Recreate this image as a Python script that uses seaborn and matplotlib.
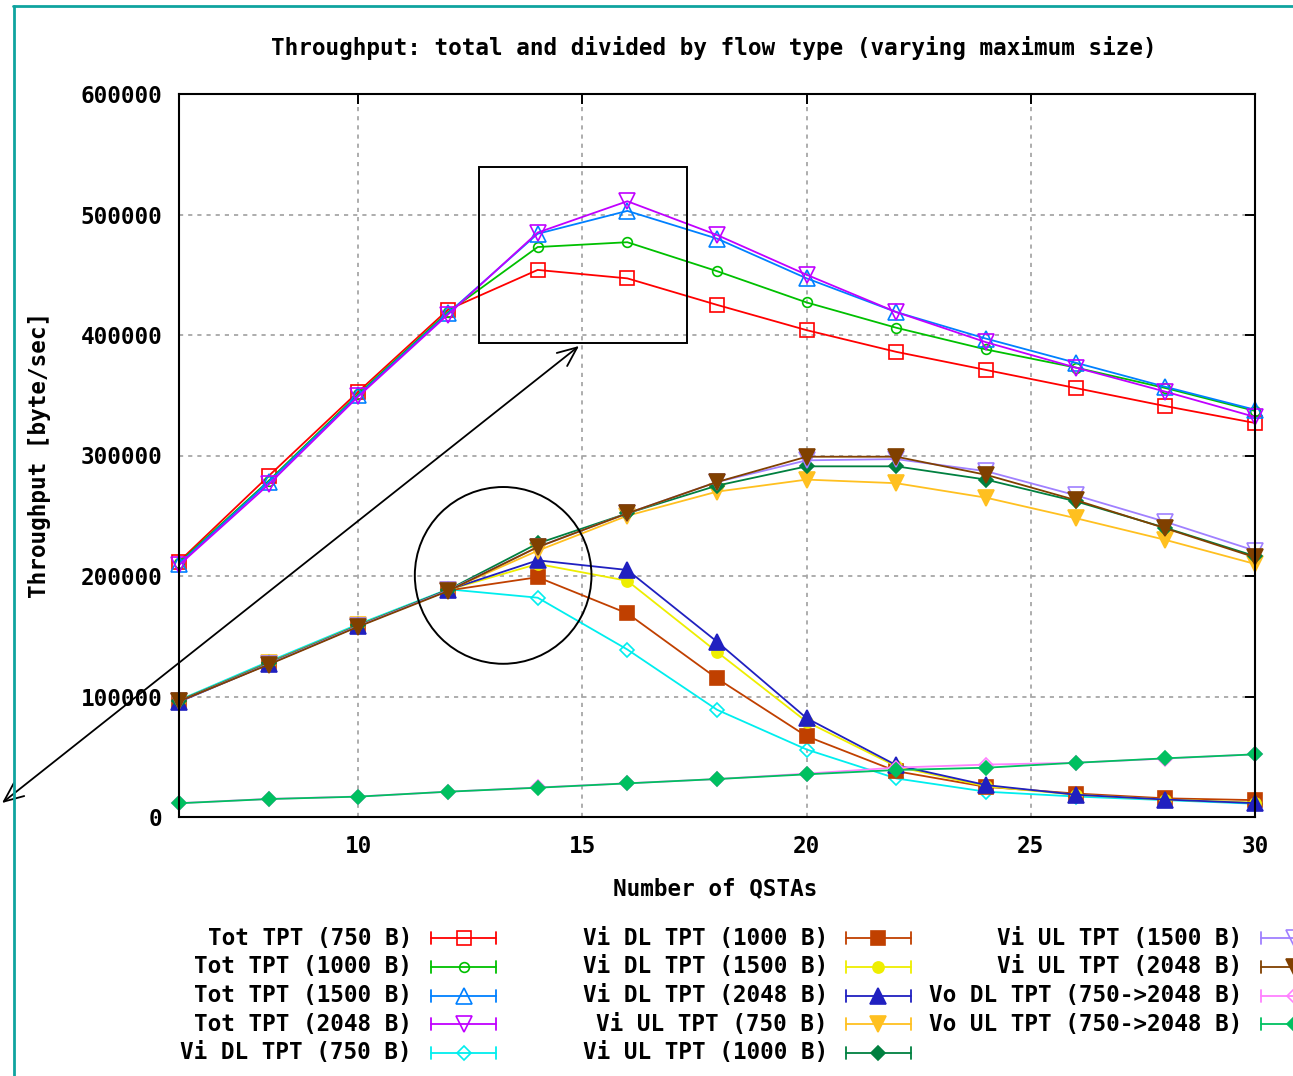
import matplotlib
matplotlib.use("Agg")
import matplotlib.pyplot as plt
import seaborn as sns
from matplotlib.lines import Line2D
from matplotlib.patches import Rectangle, Ellipse

# ---- data: throughput [byte/sec] versus number of QSTAs ----
n_qstas = [6, 8, 10, 12, 14, 16, 18, 20, 22, 24, 26, 28, 30]

tot_750 = [212000, 283000, 353000, 421000, 454000, 447000, 425000, 404000, 386000, 371000, 356000, 341000, 327000]
tot_1000 = [211000, 279000, 351000, 419000, 473000, 477000, 453000, 427000, 406000, 388000, 373000, 356000, 337000]
tot_1500 = [210000, 278000, 350000, 418000, 484000, 503000, 480000, 447000, 419000, 397000, 377000, 357000, 338000]
tot_2048 = [209000, 276000, 349000, 417000, 485000, 511000, 483000, 450000, 419000, 394000, 373000, 353000, 332000]

vi_dl_750 = [97000, 129000, 160000, 189000, 182000, 139000, 89000, 56000, 32000, 21000, 17000, 14000, 11000]
vi_dl_1000 = [96000, 128000, 159000, 188000, 199000, 169000, 115000, 67000, 38000, 25000, 19500, 15500, 14000]
vi_dl_1500 = [96000, 127500, 159000, 188500, 210000, 196000, 137000, 79000, 42000, 25500, 18500, 14500, 12000]
vi_dl_2048 = [95500, 127000, 158500, 188500, 213000, 205000, 145500, 82000, 43000, 26500, 18500, 14500, 11500]

vi_ul_750 = [96500, 127500, 159000, 188000, 221000, 250000, 270000, 280000, 277000, 265000, 248000, 230000, 210000]
vi_ul_1000 = [96500, 127500, 159000, 188500, 227000, 252000, 275000, 291000, 291000, 280000, 262000, 240000, 216500]
vi_ul_1500 = [96000, 127000, 158500, 188000, 224000, 252000, 278000, 296000, 297000, 287000, 267000, 245000, 221000]
vi_ul_2048 = [96000, 126500, 158000, 187500, 224000, 252000, 278000, 299000, 299000, 284000, 263000, 239600, 215500]

vo_dl = [11500, 15000, 17000, 21000, 24500, 28000, 31500, 36000, 41000, 43500, 45000, 48500, 52000]
vo_ul = [11400, 14900, 16900, 21000, 24300, 27900, 31500, 35400, 39000, 40900, 45000, 48700, 52000]

labels = [
    "Tot TPT (750 B)", "Tot TPT (1000 B)", "Tot TPT (1500 B)", "Tot TPT (2048 B)",
    "Vi DL TPT (750 B)", "Vi DL TPT (1000 B)", "Vi DL TPT (1500 B)", "Vi DL TPT (2048 B)",
    "Vi UL TPT (750 B)", "Vi UL TPT (1000 B)", "Vi UL TPT (1500 B)", "Vi UL TPT (2048 B)",
    "Vo DL TPT (750->2048 B)", "Vo UL TPT (750->2048 B)",
]
series = [tot_750, tot_1000, tot_1500, tot_2048,
          vi_dl_750, vi_dl_1000, vi_dl_1500, vi_dl_2048,
          vi_ul_750, vi_ul_1000, vi_ul_1500, vi_ul_2048,
          vo_dl, vo_ul]

x_ticks = [10, 15, 20, 25, 30]
y_ticks = [0, 100000, 200000, 300000, 400000, 500000, 600000]

# gnuplot-like line types: colour, marker, filled, marker size
colors = ["#ff0000", "#00c000", "#0080ff", "#c000ff", "#00eeee", "#c04000", "#eeee00",
          "#2020c0", "#ffc020", "#008040", "#a080ff", "#804000", "#ff80ff", "#00c060"]
markers = ["s", "o", "^", "v", "D", "s", "o", "^", "v", "D", "v", "v", "D", "D"]
filled = [False, False, False, False, False, True, True, True, True, True, False, True, False, True]
msizes = [10, 7, 11, 11, 7.5, 10, 8, 11, 11, 7.5, 11, 11, 7.5, 7.5]

# ---- figure ----
W, H = 1293, 1076
sns.set_theme(style="white")
plt.rcParams["font.family"] = ["DejaVu Sans Mono"]
plt.rcParams["font.weight"] = "bold"
plt.rcParams["text.color"] = "black"
plt.rcParams["axes.labelcolor"] = "black"
plt.rcParams["xtick.color"] = "black"
plt.rcParams["ytick.color"] = "black"
FS = 16.3

fig = plt.figure(figsize=(W / 100, H / 100), dpi=100)
ax = fig.add_axes([179 / W, 1 - 817 / H, (1255 - 179) / W, (817 - 94) / H])

for vals, col, mk, fl, ms in zip(series, colors, markers, filled, msizes):
    sns.lineplot(x=n_qstas, y=vals, ax=ax, color=col, linewidth=1.3,
                 marker=mk, markersize=ms,
                 markerfacecolor=col if fl else "none",
                 markeredgecolor=col, markeredgewidth=1.2,
                 legend=False, clip_on=False)

ax.set_xlim(6, 30)
ax.set_ylim(0, 600000)
ax.set_xticks(x_ticks, labels=[str(v) for v in x_ticks])
ax.set_yticks(y_ticks, labels=[str(v) for v in y_ticks])
ax.tick_params(axis="both", direction="in", length=7, width=1.4, color="black",
               top=True, right=True, labelsize=FS, labelcolor="black")
ax.tick_params(axis="y", pad=12)
ax.tick_params(axis="x", pad=13)
for lab in ax.get_xticklabels() + ax.get_yticklabels():
    lab.set_fontweight("bold")
ax.grid(True, color="#a0a0a0", linestyle=(0, (2.5, 3)), linewidth=1.2)
for sp in ax.spines.values():
    sp.set_color("black")
    sp.set_linewidth(1.5)
ax.set_xlabel("")
ax.set_ylabel("")

fig.text(714 / W, 1 - 48 / H, "Throughput: total and divided by flow type (varying maximum size)",
         ha="center", va="center", fontsize=FS, fontweight="bold", color="black")
fig.text(715 / W, 1 - 889 / H, "Number of QSTAs", ha="center", va="center",
         fontsize=FS, fontweight="bold", color="black")
fig.text(40 / W, 1 - 455 / H, "Throughput [byte/sec]", ha="center", va="center",
         rotation=90, fontsize=FS, fontweight="bold", color="black")

# zoom box, circle and arrow annotations
ax.add_patch(Rectangle((12.69, 393400), 4.64, 146000, fill=False, edgecolor="black",
                       linewidth=1.4, clip_on=False, zorder=5))
ax.add_patch(Ellipse((13.23, 200500), 3.94, 146700, fill=False, edgecolor="black",
                     linewidth=1.4, clip_on=False, zorder=5))
ax.annotate("", xy=(579, H - 346), xycoords="figure pixels",
            xytext=(2, H - 803), textcoords="figure pixels",
            arrowprops=dict(arrowstyle="<->,head_length=0.7,head_width=0.3",
                            mutation_scale=20, lw=1.3, color="black",
                            shrinkA=0, shrinkB=0))

# legend in gnuplot style: right-aligned labels, sample with end caps
def fx(px):
    return px / W

def fy(py):
    return 1 - py / H

col_geom = [(412, 431, 496), (828, 846, 911), (1242, 1261, 1326)]
row_y = [938, 967, 995.5, 1024, 1053]
for i, lab in enumerate(labels):
    c, r = divmod(i, 5)
    tx, s0, s1 = col_geom[c]
    yy = row_y[r]
    fig.text(fx(tx), fy(yy), lab, ha="right", va="center", fontsize=FS,
             fontweight="bold", color="black")
    fig.add_artist(Line2D([fx(s0), fx(s1)], [fy(yy), fy(yy)], color=colors[i], lw=1.3))
    for sx in (s0, s1):
        fig.add_artist(Line2D([fx(sx), fx(sx)], [fy(yy - 6), fy(yy + 6)], color=colors[i], lw=1.3))
    fig.add_artist(Line2D([fx((s0 + s1) / 2)], [fy(yy)], marker=markers[i], markersize=msizes[i],
                          color=colors[i], markerfacecolor=colors[i] if filled[i] else "none",
                          markeredgecolor=colors[i], markeredgewidth=1.2, linestyle="none"))

# teal frame on the top and left edges
teal = "#0fa39f"
fig.add_artist(Line2D([fx(13), fx(W)], [fy(6), fy(6)], color=teal, lw=2))
fig.add_artist(Line2D([fx(14), fx(14)], [fy(6), fy(H)], color=teal, lw=2))

fig.savefig("out.png", dpi=100)
